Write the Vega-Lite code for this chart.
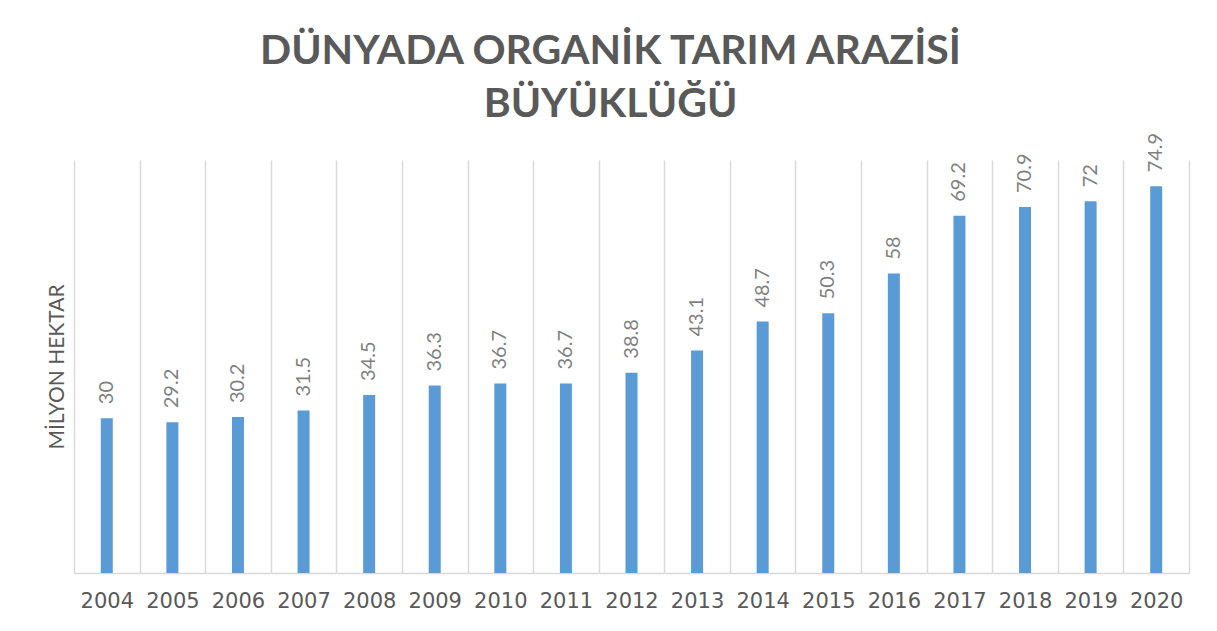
{
  "$schema": "https://vega.github.io/schema/vega-lite/v6.json",
  "autosize": {"type": "none"},
  "width": 1115,
  "height": 413,
  "padding": {"left": 74, "top": 160, "right": 28, "bottom": 58},
  "background": "#ffffff",
  "config": {"view": {"stroke": null}},
  "title": {
    "text": ["DÜNYADA ORGANİK TARIM ARAZİSİ", "BÜYÜKLÜĞÜ"],
    "font": "Lato",
    "fontSize": 41,
    "fontWeight": "bold",
    "color": "#595959",
    "lineHeight": 53,
    "anchor": "middle",
    "dx": -21,
    "offset": 7
  },
  "data": {
    "values": [
      {"year": "2004", "value": 30},
      {"year": "2005", "value": 29.2},
      {"year": "2006", "value": 30.2},
      {"year": "2007", "value": 31.5},
      {"year": "2008", "value": 34.5},
      {"year": "2009", "value": 36.3},
      {"year": "2010", "value": 36.7},
      {"year": "2011", "value": 36.7},
      {"year": "2012", "value": 38.8},
      {"year": "2013", "value": 43.1},
      {"year": "2014", "value": 48.7},
      {"year": "2015", "value": 50.3},
      {"year": "2016", "value": 58},
      {"year": "2017", "value": 69.2},
      {"year": "2018", "value": 70.9},
      {"year": "2019", "value": 72},
      {"year": "2020", "value": 74.9}
    ]
  },
  "encoding": {
    "x": {
      "field": "year",
      "type": "ordinal",
      "scale": {"paddingInner": 0, "paddingOuter": 0},
      "axis": {
        "title": null,
        "labelAngle": 0,
        "labelFont": "DejaVu Sans",
        "labelFontSize": 21,
        "labelColor": "#595959",
        "labelPadding": 17,
        "ticks": false,
        "tickBand": "extent",
        "grid": true,
        "gridColor": "#d9d9d9",
        "gridWidth": 1.5,
        "domainColor": "#d9d9d9",
        "domainWidth": 1.5
      }
    },
    "y": {
      "field": "value",
      "type": "quantitative",
      "scale": {"domain": [0, 80], "nice": false},
      "axis": {
        "title": "MİLYON HEKTAR",
        "titleFont": "Lato",
        "titleFontSize": 21,
        "titleFontWeight": "normal",
        "titleColor": "#595959",
        "titlePadding": 7,
        "labels": false,
        "ticks": false,
        "domain": false,
        "grid": false
      }
    }
  },
  "layer": [
    {"mark": {"type": "bar", "width": 12, "color": "#5b9bd5"}},
    {
      "mark": {
        "type": "text",
        "angle": 270,
        "align": "left",
        "baseline": "middle",
        "dx": 14,
        "font": "Lato",
        "fontSize": 20,
        "color": "#7f7f7f"
      },
      "encoding": {"text": {"field": "value", "type": "quantitative"}}
    }
  ]
}
